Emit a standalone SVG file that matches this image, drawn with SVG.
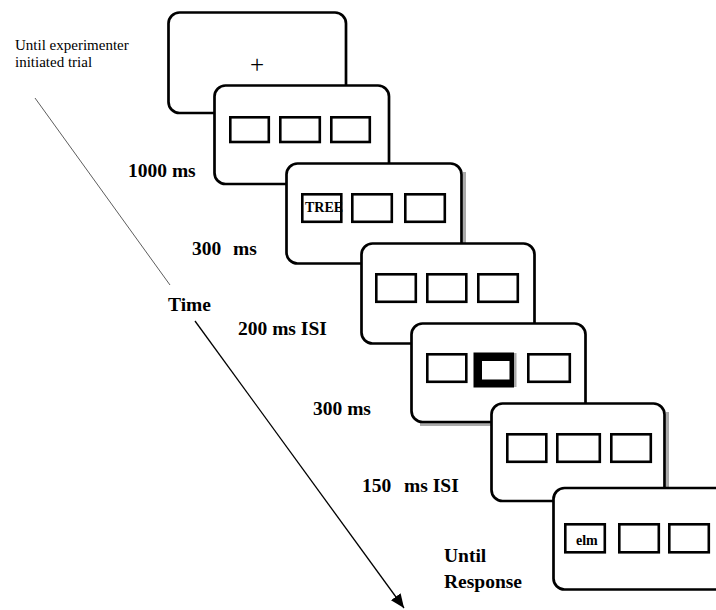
<svg xmlns="http://www.w3.org/2000/svg" width="716" height="610" viewBox="0 0 716 610">
<style>
.frame{fill:#fff;stroke:#000;stroke-width:2.7}
.box{fill:none;stroke:#000;stroke-width:2.6}
.shadow{fill:#aaa}
.lbl{font-family:"Liberation Serif","Times New Roman",serif;font-weight:bold;font-size:19.5px;fill:#000}
.note{font-family:"Liberation Serif","Times New Roman",serif;font-size:15px;fill:#000}
.word{font-family:"Liberation Serif","Times New Roman",serif;font-weight:bold;font-size:14px;fill:#000}
</style>
<defs>
<marker id="arrow" markerUnits="userSpaceOnUse" markerWidth="15" markerHeight="12" refX="14" refY="6" orient="auto">
<path d="M0,0 L14,6 L0,12 z" fill="#000"/>
</marker>
</defs>
<rect width="716" height="610" fill="#fff"/>

<g id="connectors">
<line x1="35" y1="98" x2="170" y2="285" stroke="#333" stroke-width="0.8"/>
<line x1="195" y1="321" x2="404" y2="608" stroke="#000" stroke-width="1.3" marker-end="url(#arrow)"/>
</g>

<g id="labels">
<text class="note" x="15" y="50">Until experimenter</text>
<text class="note" x="15" y="66.5">initiated trial</text>
<text class="lbl" x="128" y="177">1000 ms</text>
<text class="lbl" y="255"><tspan x="192">300</tspan><tspan x="233">ms</tspan></text>
<text class="lbl" x="168" y="311">Time</text>
<text class="lbl" x="238" y="335">200 ms ISI</text>
<text class="lbl" x="313" y="415">300 ms</text>
<text class="lbl" y="492"><tspan x="362">150</tspan><tspan x="404">ms ISI</tspan></text>
<text class="lbl" x="444" y="562">Until</text>
<text class="lbl" x="444" y="588">Response</text>
</g>

<g id="frame1">
<rect class="frame" x="168.5" y="12.5" width="177.5" height="100.5" rx="11" ry="11"/>
<text x="257" y="73" text-anchor="middle" font-family="Liberation Serif, Times New Roman, serif" font-size="25" fill="#000">+</text>
</g>

<g id="frame2">
<rect class="frame" x="214.5" y="85.5" width="174.5" height="98.5" rx="11" ry="11"/>
<rect class="box" x="230.3" y="117.3" width="38.5" height="24.7"/>
<rect class="box" x="280.3" y="117.3" width="39.5" height="24.7"/>
<rect class="box" x="331.3" y="117.3" width="38.5" height="24.7"/>
</g>

<g id="frame3">
<rect class="shadow" x="463" y="172" width="3" height="90"/>
<rect class="frame" x="286.5" y="163.5" width="175" height="100" rx="11" ry="11"/>
<rect class="box" x="302.3" y="194.3" width="39" height="27.5"/>
<rect class="box" x="352.3" y="194.3" width="39.5" height="27.5"/>
<rect class="box" x="405.3" y="194.3" width="39.5" height="27.5"/>
<text class="word" x="305" y="212">TREE</text>
</g>

<g id="frame4">
<rect class="frame" x="361.5" y="243.5" width="173" height="100" rx="11" ry="11"/>
<rect class="box" x="376.3" y="274.3" width="39.5" height="27.5"/>
<rect class="box" x="427.3" y="274.3" width="39" height="27.5"/>
<rect class="box" x="478.3" y="274.3" width="39.5" height="27.5"/>
</g>

<g id="frame5">
<rect class="shadow" x="420" y="423" width="75" height="3"/>
<rect class="frame" x="411.5" y="323.5" width="174" height="98.5" rx="11" ry="11"/>
<rect class="box" x="427.3" y="354.3" width="39" height="27.5"/>
<path d="M473.5,352.5 H514 V387.5 H473.5 z M482,361 V379.5 H509.5 V361 z" fill="#000" fill-rule="evenodd"/>
<rect class="shadow" x="514" y="353" width="2.5" height="34"/>
<rect class="box" x="528.3" y="354.3" width="41.5" height="27.5"/>
</g>

<g id="frame6">
<rect class="shadow" x="666" y="412" width="3" height="76"/>
<rect class="frame" x="491.5" y="403.5" width="173" height="97.5" rx="11" ry="11"/>
<rect class="box" x="507.3" y="434.3" width="39" height="27.5"/>
<rect class="box" x="557.3" y="434.3" width="42.5" height="27.5"/>
<rect class="box" x="611.3" y="434.3" width="39.5" height="27.5"/>
</g>

<g id="frame7">
<rect class="frame" x="553.5" y="488" width="176" height="101.5" rx="11" ry="11"/>
<rect class="box" x="565.3" y="524.3" width="39.5" height="28"/>
<rect class="box" x="619.3" y="524.3" width="39.5" height="28"/>
<rect class="box" x="669.3" y="524.3" width="39.5" height="28"/>
<text class="word" x="576" y="545">elm</text>
</g>
</svg>
